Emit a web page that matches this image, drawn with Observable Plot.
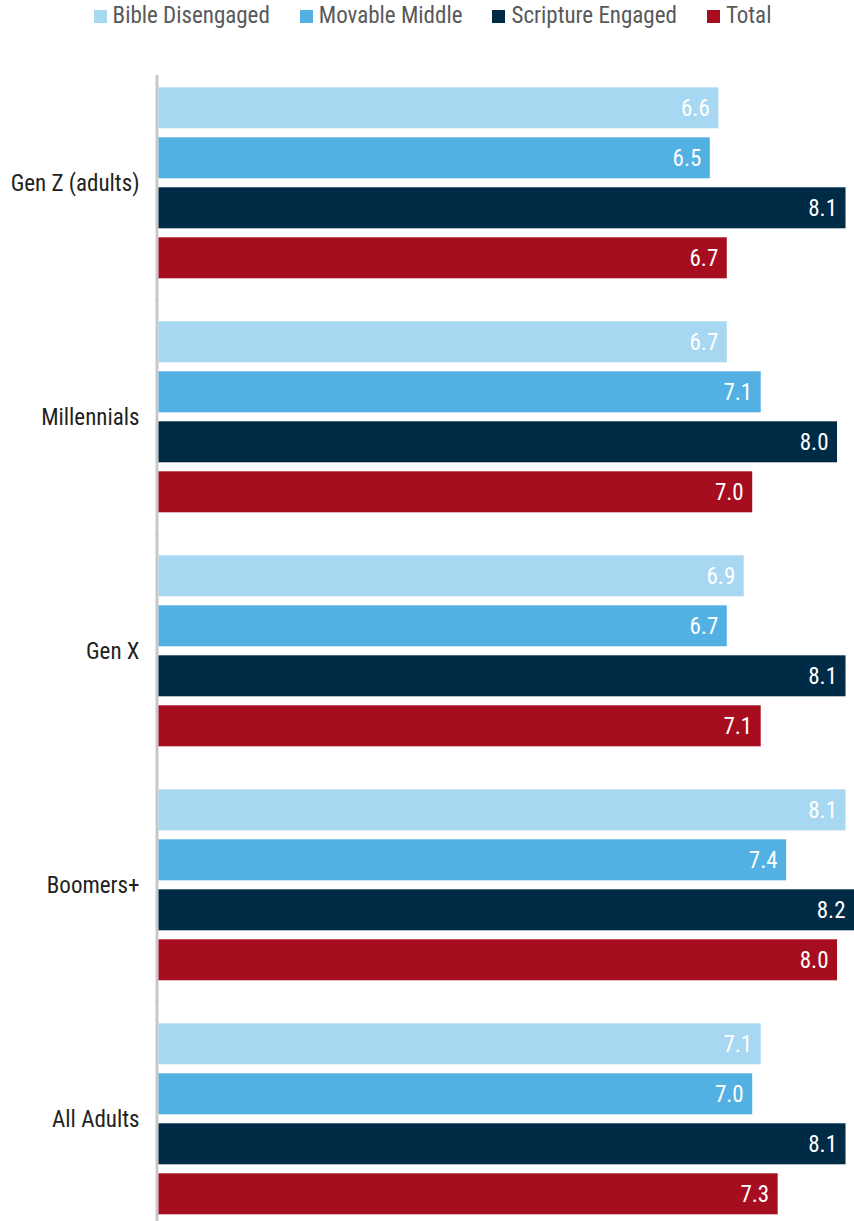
<!DOCTYPE html>
<html>
<head>
<meta charset="utf-8">
<script src="https://cdn.jsdelivr.net/npm/d3@7"></script>
<script src="https://cdn.jsdelivr.net/npm/@observablehq/plot@0.6"></script>
<style>
  html, body { margin: 0; padding: 0; background: #fff; }
  body { width: 854px; font-family: "Liberation Sans Narrow", "Roboto Condensed", Roboto, sans-serif; }
  #legend { height: 75px; box-sizing: border-box; padding-left: 11px; padding-top: 4px; display: flex; justify-content: center; align-items: flex-start; gap: 30px; font-size: 23px; line-height: 24px; color: #58595b; }
  #legend .item { display: flex; align-items: center; gap: 6px; }
  #legend .sw { width: 13px; height: 13px; display: inline-block; }
  svg { overflow: hidden; display: block; }
</style>
</head>
<body>
<div id="legend"></div>
<div id="chart"></div>
<script>
const groups = ["Gen Z (adults)", "Millennials", "Gen X", "Boomers+", "All Adults"];
const series = ["Bible Disengaged", "Movable Middle", "Scripture Engaged", "Total"];
const colors = ["#a8d8f1", "#53b0e3", "#002b47", "#a60d1f"];
const bibleDisengaged = [6.6, 6.7, 6.9, 8.1, 7.1];
const movableMiddle = [6.5, 7.1, 6.7, 7.4, 7.0];
const scriptureEngaged = [8.1, 8.0, 8.1, 8.2, 8.1];
const total = [6.7, 7.0, 7.1, 8.0, 7.3];

const seriesValues = [bibleDisengaged, movableMiddle, scriptureEngaged, total];
const data = groups.flatMap((g, i) => series.map((s, j) => ({group: g, series: s, value: seriesValues[j][i]})));

// legend
const legend = d3.select("#legend");
series.forEach((s, j) => {
  const it = legend.append("div").attr("class", "item");
  it.append("span").attr("class", "sw").style("background", colors[j]);
  it.append("span").text(s);
});

const fontFamily = '"Liberation Sans Narrow", "Roboto Condensed", Roboto, sans-serif';

const chart = Plot.plot({
  width: 854,
  height: 1146,
  marginTop: 11.7,
  marginBottom: 5.3,
  marginLeft: 158.5,
  marginRight: 0,
  style: {fontFamily, fontSize: "23px", color: "#231f20", background: "transparent"},
  facet: {data, y: "group", marginLeft: 158.5},
  x: {domain: [0, 8.2], axis: null},
  y: {domain: series, axis: null, paddingInner: 0.19, paddingOuter: 0},
  fy: {domain: groups, paddingInner: 0.178, paddingOuter: 0, label: null, axis: "left", tickSize: 0, tickPadding: 19.5},
  color: {domain: series, range: colors},
  marks: [
    Plot.ruleX([0], {stroke: "#c8c8c8", strokeWidth: 3, dx: -2, insetTop: -22, insetBottom: -22}),
    Plot.barX(data, {y: "series", x: "value", fill: "series"}),
    Plot.text(data, {y: "series", x: "value", text: d => d.value.toFixed(1), textAnchor: "end", dx: -9, fill: "white", fontSize: 23})
  ]
});
document.getElementById("chart").appendChild(chart);
</script>
</body>
</html>
